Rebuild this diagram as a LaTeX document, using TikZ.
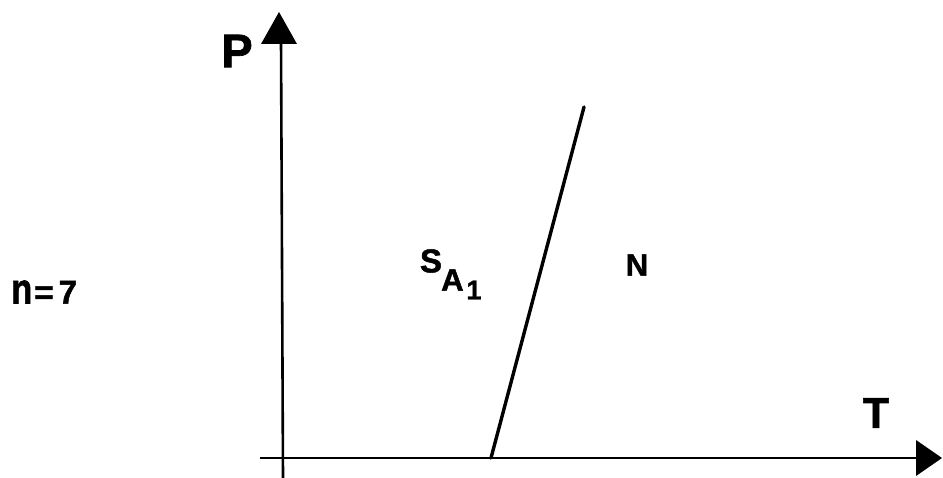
\documentclass[tikz,border=0pt]{standalone}
\usepackage{fontspec}
\usepackage{graphicx}
\setmainfont{Liberation Sans}
\newfontfamily\heavy{Liberation Sans Bold}[FakeBold=1.5]
\begin{document}
\begin{tikzpicture}[x=1pt,y=-1pt,
  axis/.style={line width=2.6pt},
  head/.style={fill=black},
  lbl/.style={inner sep=0pt}]
\useasboundingbox (0,0) rectangle (943,478);
% axes
\coordinate (o) at (283,458);
\coordinate (ybot) at (283,478);
\coordinate (ytop) at (281,40);
\coordinate (xl) at (260,458);
\coordinate (xr) at (918,458);
\draw[axis] (ybot) -- (ytop);
\draw[axis] (xl) -- (xr);
\fill[head] (279,12) -- (297,44) -- (261,44) -- cycle;
\fill[head] (942,458) -- (916,440) -- (916,476) -- cycle;
% phase boundary
\coordinate (b0) at (491,458);
\coordinate (b1) at (584,107);
\draw[line width=3.4pt, line cap=round] (b0) -- (b1);
% labels
\node[lbl, font=\fontsize{47}{47}\heavy\selectfont] (P) at (237,51) {P};
\node[lbl, font=\fontsize{43}{43}\heavy\selectfont] (T) at (876,413) {T};
\node[lbl, font=\fontsize{31}{31}\heavy\selectfont] (N) at (637,265) {N};
\node[lbl, font=\fontsize{33}{33}\heavy\selectfont] (S) at (431,261) {S};
\node[lbl, font=\fontsize{31}{31}\heavy\selectfont, anchor=west] (A) at (441,280) {A};
\node[lbl, font=\fontsize{27}{27}\heavy\selectfont] (one) at (474,290) {1};
\node[lbl, font=\fontsize{33}{33}\heavy\selectfont, anchor=west] (n) at (11,292) {\scalebox{1.05}[1.3]{n}\kern2pt=\kern5pt7};
\end{tikzpicture}
\end{document}
